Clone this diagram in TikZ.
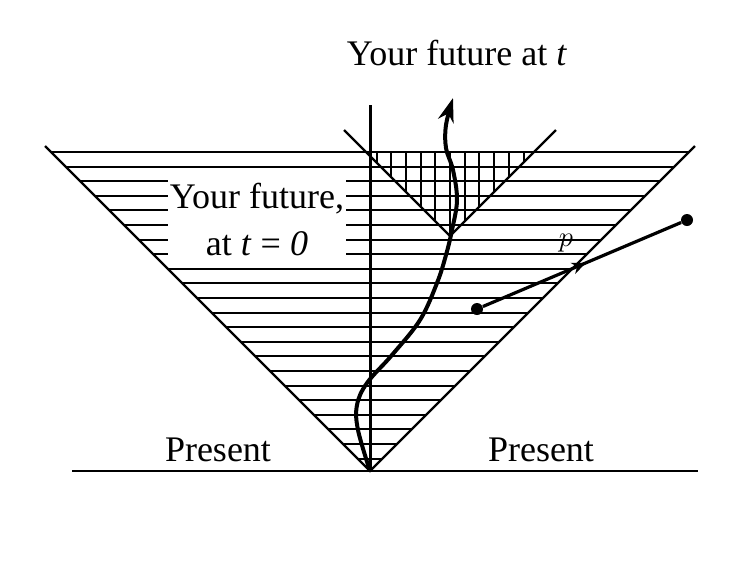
\documentclass[tikz,border=0pt]{standalone}
\usepackage{fontspec}
\setmainfont{Liberation Serif}
\usetikzlibrary{arrows.meta,decorations.markings}
\begin{document}
\begin{tikzpicture}
	[x=0.5pt,y=-0.5pt,
	hatch/.style={line width=1pt},
	conestyle/.style={line width=1.2pt},
	worldline/.style={line width=2pt,-{Stealth[length=12pt,width=8pt]}},
	event/.style={circle,fill,inner sep=0pt,minimum size=6pt},
	words/.style={font=\fontsize{18}{23.5}\selectfont,inner sep=0pt}
	]
	\useasboundingbox (0,0) rectangle (756,575);
	\coordinate (O) at (370,471);
	\coordinate (L) at (45,146);
	\coordinate (R) at (695,146);
	\coordinate (Q) at (450,236);
	\coordinate (QL) at (344,130);
	\coordinate (QR) at (556,130);
	\coordinate (Top) at (370,105);
	\coordinate (Tip) at (453,98);
	\foreach \k in {0,...,21}{
		\pgfmathsetmacro\hy{152+14.6*\k}
		\pgfmathsetmacro\hw{471-\hy}
		\draw[hatch] ({370-\hw},\hy) -- ({370+\hw},\hy);
	}
	\foreach \j in {-5,...,5}{
		\pgfmathsetmacro\vx{450+14.7*\j}
		\pgfmathsetmacro\vy{236-abs(14.7*\j)}
		\draw[hatch] (\vx,152) -- (\vx,\vy);
	}
	\node[words,fill=white,align=center,inner xsep=1pt,inner ysep=6pt] (now) at (257,219)
		{Your future,\\at \textit{t} = \textit{0}};
	\draw[conestyle] (L) -- (O) -- (R);
	\draw[conestyle] (QL) -- (Q) -- (QR);
	\draw[conestyle] (72,471) -- (698,471);
	\draw[line width=1.5pt] (Top) -- (O);
	\draw[worldline] plot[smooth,tension=0.6] coordinates
		{(O) (358,430) (357,405) (367,383) (392,355) (420,320) (437,283) (446,255) (452,230) (457,200) (453,170) (446,148) (446,125) (Tip)};
	\node[event] (p1) at (477,309) {};
	\node[event] (p2) at (687,220) {};
	\draw[line width=1.6pt,postaction={decorate},
		decoration={markings,mark=at position 0.52 with {\arrow{Stealth[length=7pt,width=6pt]}}}]
		(p1) -- (p2);
	\node[font=\fontsize{14}{16}\selectfont] (plabel) at (566,243) {$p$};
	\node[words,anchor=base] (futt) at (457,65) {Your future at \textit{t}};
	\node[words,anchor=base] (presl) at (218,461) {Present};
	\node[words,anchor=base] (presr) at (541,461) {Present};
\end{tikzpicture}
\end{document}
